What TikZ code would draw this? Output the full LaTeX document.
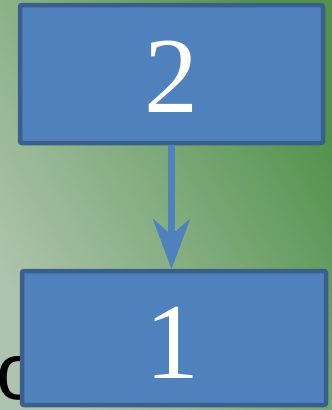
\documentclass[tikz,border=0pt]{standalone}
\usepackage{fontspec}
\newfontfamily\sansfnt{Liberation Sans}
\newfontfamily\serifnt{Liberation Serif}
\usetikzlibrary{arrows.meta}
\definecolor{bgA}{HTML}{AEC4AE}
\definecolor{bgM}{HTML}{82AC7E}
\definecolor{bgB}{HTML}{52924D}
\definecolor{boxfill}{HTML}{4F81BD}
\definecolor{boxline}{HTML}{3A5F8C}
\pgfdeclarehorizontalshading{bgshade}{100bp}{color(0bp)=(bgA); color(25bp)=(bgA); color(50bp)=(bgM); color(75bp)=(bgB); color(100bp)=(bgB)}
\tikzset{
  numbox/.style={draw=boxline, fill=boxfill, line width=4.5pt, rounded corners=2pt},
  numtext/.style={text=white, font=\serifnt\fontsize{108}{108}\selectfont, inner sep=0pt},
  link/.style={draw=boxfill, line width=7pt, -{Stealth[length=50pt, width=37pt, inset=16pt]}}
}
\begin{document}
\begin{tikzpicture}[x=1pt, y=-1pt]
\useasboundingbox (0,0) rectangle (332,410);
\shade[shading=bgshade, shading angle=30] (0,0) rectangle (332,410);
\node[font=\sansfnt\fontsize{80}{80}\selectfont, inner sep=0pt, text=black] (o) at (19,378) {o};
\draw[numbox] (20,5) rectangle (323,143);
\node[numtext] (two) at (171,77) {2};
\coordinate (b2) at (171.5,145);
\draw[numbox] (22,271) rectangle (326,405);
\node[numtext] (one) at (172,343) {1};
\coordinate (t1) at (171.5,269);
\draw[link] (b2) -- (t1);
\end{tikzpicture}
\end{document}
